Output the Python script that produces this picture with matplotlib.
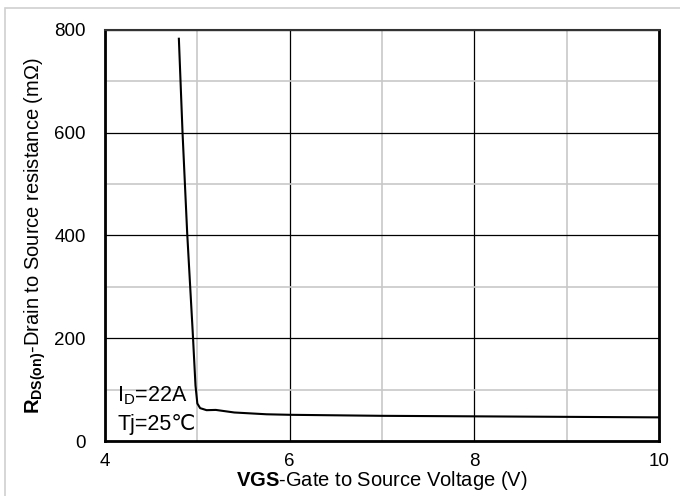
import matplotlib
matplotlib.use("Agg")
import matplotlib.pyplot as plt
from matplotlib.patches import Rectangle
from matplotlib.ticker import MultipleLocator

plt.rcParams["font.family"] = ["Liberation Sans", "DejaVu Sans"]
plt.rcParams["mathtext.fontset"] = "custom"
plt.rcParams["mathtext.rm"] = "Liberation Sans"
plt.rcParams["mathtext.bf"] = "Liberation Sans:bold"

# RDS(on) vs VGS (ID=22A, Tj=25C)
vgs = [4.80, 4.84, 4.89, 4.95, 4.98, 5.00, 5.03, 5.10, 5.20, 5.40, 5.75, 6.0, 7.0, 8.0, 9.0, 10.0]
rds = [783, 599, 405, 212, 108, 73, 64, 60, 60.5, 55.5, 52, 51, 49, 48, 47, 46]

x_ticks = [4, 6, 8, 10]
y_ticks = [0, 200, 400, 600, 800]

fig = plt.figure(figsize=(6.8, 4.96), dpi=100)
ax = fig.add_axes([105 / 680, 1 - 441 / 496, 554 / 680, 411 / 496])

# light frame round the whole figure
fig.patches.append(Rectangle((5 / 680, -0.1), 1.2, 0.1 + 488 / 496, transform=fig.transFigure,
                             fill=False, edgecolor="#d0d0d0", linewidth=1.2))

ax.plot(vgs, rds, color="black", linewidth=1.5)

ax.set_xlim(4, 10)
ax.set_ylim(0, 800)
ax.set_xticks(x_ticks)
ax.set_yticks(y_ticks)
ax.xaxis.set_minor_locator(MultipleLocator(1))
ax.yaxis.set_minor_locator(MultipleLocator(100))
ax.grid(which="major", color="black", linewidth=0.9)
ax.grid(which="minor", color="#c8c8c8", linewidth=1.2)
ax.set_axisbelow(True)
ax.tick_params(which="both", length=0, labelsize=13.5)
ax.tick_params(axis="x", pad=9)
ax.tick_params(axis="y", pad=14)
for side in ["left", "bottom", "right"]:
    ax.spines[side].set_linewidth(2.0)
ax.spines["top"].set_linewidth(1.5)
ax.spines["top"].set_color("#333333")

ax.set_xlabel(r"$\mathbf{VGS}$-Gate to Source Voltage (V)", fontsize=14.5, labelpad=-1)
ax.set_ylabel(r"$\mathbf{R}_{\mathbf{DS(on)}}$-Drain to Source resistance (mΩ)", fontsize=14.5, labelpad=4)

ax.text(4.13, 88, r"I$_\mathrm{D}$=22A", fontsize=15.5, va="center")
ax.text(4.13, 32, "Tj=25℃", fontsize=15.5, va="center")

fig.savefig("out.png", dpi=100)
